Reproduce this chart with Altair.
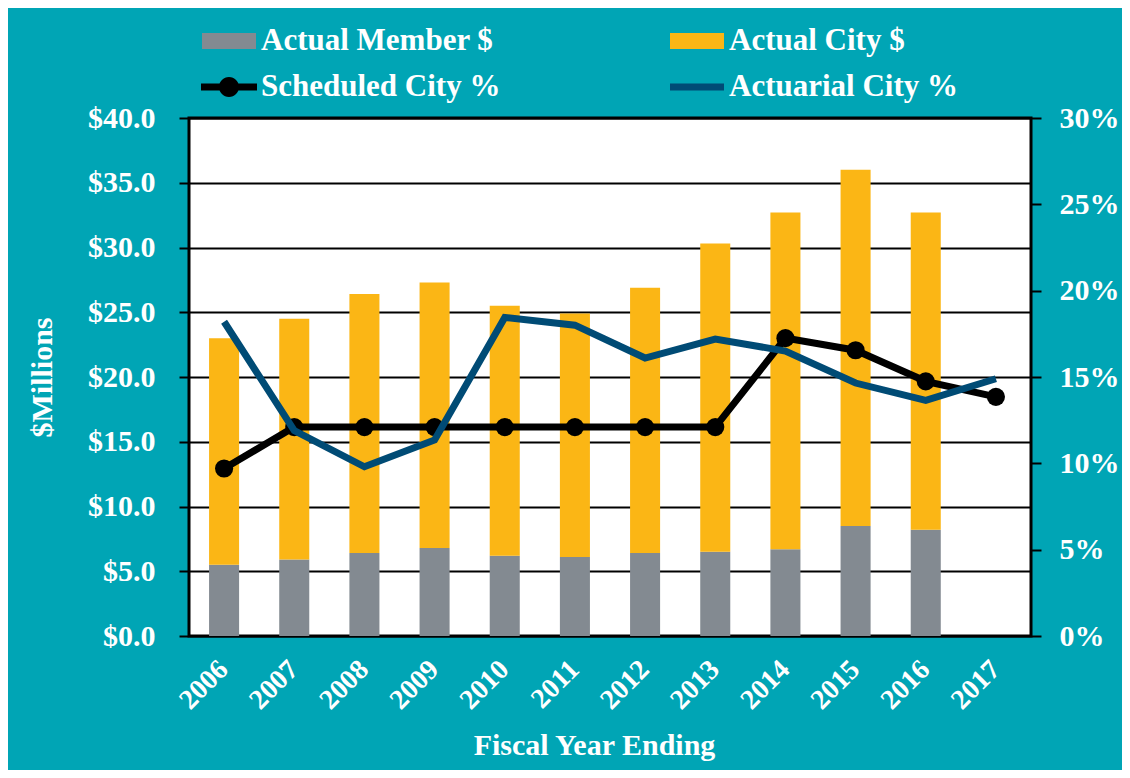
import altair as alt
import pandas as pd

# ---- data ----
years = [str(y) for y in range(2006, 2018)]
member_musd = [5.5, 5.9, 6.4, 6.8, 6.2, 6.1, 6.4, 6.5, 6.7, 8.5, 8.2, None]
city_musd = [17.5, 18.6, 20.0, 20.5, 19.3, 18.8, 20.5, 23.8, 26.0, 27.5, 24.5, None]
scheduled_pct = [9.7, 12.1, 12.1, 12.1, 12.1, 12.1, 12.1, 12.1, 17.25, 16.55, 14.75, 13.85]
actuarial_pct = [18.2, 11.9, 9.8, 11.35, 18.45, 18.0, 16.1, 17.2, 16.5, 14.65, 13.65, 14.9]

# legend is laid out column by column, so this order gives the reference's rows
series_names = ["Actual Member $", "Scheduled City %", "Actual City $", "Actuarial City %"]
series_colors = ["#838A91", "#000000", "#FBB615", "#004B75"]

left_ticks = [0, 5, 10, 15, 20, 25, 30, 35, 40]
right_ticks = [0, 0.05, 0.10, 0.15, 0.20, 0.25, 0.30]

# ---- tables ----
bar_rows = []
for y, m, c in zip(years, member_musd, city_musd):
    if m is not None:
        bar_rows.append({"year": y, "series": "Actual Member $", "value": m, "ord": 0})
    if c is not None:
        bar_rows.append({"year": y, "series": "Actual City $", "value": c, "ord": 1})
bar_df = pd.DataFrame(bar_rows)

sched_df = pd.DataFrame({"year": years, "series": "Scheduled City %",
                         "pct": [v / 100 for v in scheduled_pct]})
act_df = pd.DataFrame({"year": years, "series": "Actuarial City %",
                       "pct": [v / 100 for v in actuarial_pct]})

FONT = "Liberation Serif"
color_scale = alt.Scale(domain=series_names, range=series_colors)

rect_sym = "M-1.35,-0.4L1.35,-0.4L1.35,0.4L-1.35,0.4Z"
sched_sym = ("M-1.4,-0.17L1.4,-0.17L1.4,0.17L-1.4,0.17Z "
             "M-0.5,0A0.5,0.5 0 1,1 0.5,0A0.5,0.5 0 1,1 -0.5,0Z")
act_sym = "M-1.35,-0.17L1.35,-0.17L1.35,0.17L-1.35,0.17Z"
sym_expr = (f"datum.value == 'Scheduled City %' ? '{sched_sym}' : "
            f"(datum.value == 'Actuarial City %' ? '{act_sym}' : '{rect_sym}')")

legend = alt.Legend(
    title=None, orient="none", legendX=20, legendY=-97, columns=2,
    columnPadding=169, rowPadding=11, symbolSize=1600,
    symbolType=alt.ExprRef(expr=sym_expr), symbolStrokeWidth=0, symbolOpacity=1,
    labelFont=FONT, labelFontWeight="bold", labelFontSize=31, labelColor="white",
    labelOffset=12, labelLimit=600,
)

x_enc = alt.X(
    "year:O",
    scale=alt.Scale(domain=years, paddingInner=0.572, paddingOuter=0.286),
    axis=alt.Axis(title="Fiscal Year Ending", labelAngle=315, labelAlign="right",
                  labelBaseline="middle", labelFontSize=28, ticks=False, domain=False,
                  labelPadding=29, titleX=405, titleY=109, titleBaseline="middle",
                  titleAlign="center"),
)

left_axis = alt.Axis(
    title="$Millions", values=left_ticks, labelExpr="'$' + format(datum.value, '.1f')",
    grid=True, gridColor="black", gridWidth=2, gridOpacity=1, domain=False,
    ticks=True, tickSize=10, tickColor="black", tickWidth=2, labelPadding=24,
    titleX=-147, titleY=259, titleAngle=270, titleBaseline="middle", titleAlign="center",
)

right_axis = alt.Axis(
    title=None, orient="right", values=right_ticks, format=".0%", grid=False,
    domain=False, ticks=True, tickSize=10, tickColor="black", tickWidth=2,
    labelPadding=18,
)

bars = alt.Chart(bar_df).mark_bar().encode(
    x=x_enc,
    y=alt.Y("value:Q", stack="zero", scale=alt.Scale(domain=[0, 40]), axis=left_axis),
    color=alt.Color("series:N", scale=color_scale, legend=legend),
    order=alt.Order("ord:Q"),
)

y_right = alt.Y("pct:Q", scale=alt.Scale(domain=[0, 0.3]), axis=right_axis)

sched_line = alt.Chart(sched_df).mark_line(strokeWidth=7).encode(
    x=alt.X("year:O"), y=y_right,
    color=alt.Color("series:N", scale=color_scale),
)
sched_pts = alt.Chart(sched_df).mark_circle(size=330, opacity=1).encode(
    x=alt.X("year:O"), y=y_right,
    color=alt.Color("series:N", scale=color_scale),
)
act_line = alt.Chart(act_df).mark_line(strokeWidth=7).encode(
    x=alt.X("year:O"), y=y_right,
    color=alt.Color("series:N", scale=color_scale),
)

lines = alt.layer(sched_line, sched_pts, act_line)

chart = (
    alt.layer(bars, lines)
    .resolve_scale(y="independent")
    .properties(
        width=842, height=518,
        autosize=alt.AutoSizeParams(type="none"),
        padding={"left": 181, "top": 110, "right": 91, "bottom": 134},
        background="#00A5B5",
    )
    .configure_view(stroke="black", strokeWidth=3, fill="white")
    .configure_axis(
        labelFont=FONT, labelFontWeight="bold", labelColor="white", labelFontSize=30,
        titleFont=FONT, titleFontWeight="bold", titleColor="white", titleFontSize=30,
    )
)

chart.save("out.html", embed_options={"renderer": "svg", "actions": False})
